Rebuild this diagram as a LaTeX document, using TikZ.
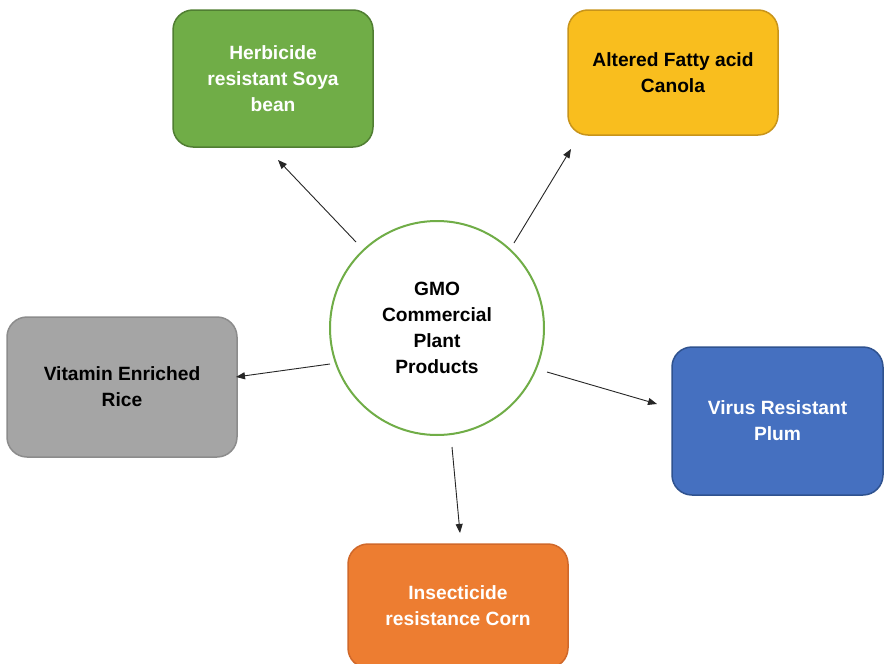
\documentclass[tikz,border=0pt]{standalone}
\usepackage{fontspec}
\setmainfont{Liberation Sans}
\usetikzlibrary{arrows.meta}
\definecolor{cgreen}{HTML}{70AD47}
\definecolor{cgreenb}{HTML}{507E32}
\definecolor{cyellow}{HTML}{F9BE1E}
\definecolor{cyellowb}{HTML}{C8941A}
\definecolor{cgray}{HTML}{A5A5A5}
\definecolor{cgrayb}{HTML}{8C8C8C}
\definecolor{cblue}{HTML}{4570C0}
\definecolor{cblueb}{HTML}{2F528F}
\definecolor{corange}{HTML}{ED7D31}
\definecolor{corangeb}{HTML}{D0682A}
\begin{document}
\begin{tikzpicture}[x=1pt,y=-1pt,
  box/.style={rectangle,rounded corners=20pt,line width=1.5pt,align=center,
    font=\fontsize{19.2}{26}\selectfont\bfseries,inner sep=0pt},
  hub/.style={circle,draw=cgreen,line width=2pt,fill=white,align=center,
    minimum size=214pt,inner sep=0pt,font=\fontsize{19.2}{26}\selectfont\bfseries},
  arr/.style={draw=black!85,line width=0.9pt,-{Triangle[length=9pt,width=7pt]}}]
\useasboundingbox (0,0) rectangle (884,664);
\fill[white] (0,0) rectangle (884,664);
\node[hub] (c) at (437,328) {GMO\\Commercial\\Plant\\Products};
\node[box,fill=cgreen,draw=cgreenb,text=white,minimum width=200pt,minimum height=137pt] (h) at (273,78.5) {Herbicide\\resistant Soya\\bean};
\node[box,fill=cyellow,draw=cyellowb,text=black,minimum width=210pt,minimum height=125pt] (k) at (673,72.5) {Altered Fatty acid\\Canola};
\node[box,fill=cgray,draw=cgrayb,text=black,minimum width=230pt,minimum height=140pt] (r) at (122,387) {Vitamin Enriched\\Rice};
\node[box,fill=cblue,draw=cblueb,text=white,minimum width=211pt,minimum height=148pt] (p) at (777.5,421) {Virus Resistant\\Plum};
\node[box,fill=corange,draw=corangeb,text=white,minimum width=220pt,minimum height=124pt] (n) at (458,606) {Insecticide\\resistance Corn};
\coordinate (hs) at (356,242); \coordinate (he) at (278,160);
\coordinate (ks) at (514,243); \coordinate (ke) at (571,149);
\coordinate (rs) at (330,364); \coordinate (re) at (236,377);
\coordinate (ps) at (547,372); \coordinate (pe) at (657,404);
\coordinate (ns) at (452,447); \coordinate (ne) at (460,533);
\draw[arr] (hs) -- (he);
\draw[arr] (ks) -- (ke);
\draw[arr] (rs) -- (re);
\draw[arr] (ps) -- (pe);
\draw[arr] (ns) -- (ne);
\end{tikzpicture}
\end{document}
